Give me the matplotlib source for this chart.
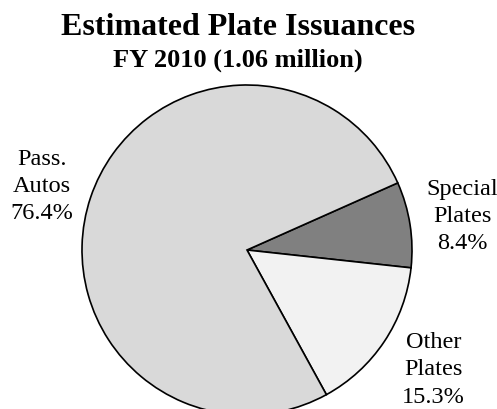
import matplotlib

matplotlib.use("Agg")
import matplotlib.pyplot as plt  # noqa: E402
import numpy as np  # noqa: E402

labels = ["Special\nPlates\n8.4%", "Other\nPlates\n15.3%", "Pass.\nAutos\n76.4%"]
shares = [8.4, 15.3, 76.4]
colors = ["#808080", "#f2f2f2", "#d9d9d9"]
label_dist = [1.32, 1.345, 1.30]
label_turn = [0.0, 1.0, 1.4]  # small angle nudges (deg)

plt.rcParams["font.family"] = ["Liberation Serif", "DejaVu Serif"]

fig = plt.figure(figsize=(4.97, 4.09), dpi=100)
ax = fig.add_axes([0, 0, 1, 1])

wedges, _ = ax.pie(
    shares,
    colors=colors,
    startangle=24,
    counterclock=False,
    wedgeprops=dict(edgecolor="black", linewidth=1.2),
)

for w, lab, d, t in zip(wedges, labels, label_dist, label_turn):
    mid = np.deg2rad((w.theta1 + w.theta2) / 2 + t)
    ax.text(d * np.cos(mid), d * np.sin(mid), lab, ha="center", va="center",
            fontsize=17.5, linespacing=1.38)

# pie centre at (247, 250) px from top-left, radius 165 px
r = 165.0
ax.set_xlim(-247 / r, (497 - 247) / r)
ax.set_ylim(-(409 - 250) / r, 250 / r)
ax.set_aspect("auto")
ax.axis("off")

fig.text(238 / 497, 1 - 35 / 409, "Estimated Plate Issuances", ha="center",
         va="baseline", fontsize=23, fontweight="bold")
fig.text(238 / 497, 1 - 67 / 409, "FY 2010 (1.06 million)", ha="center",
         va="baseline", fontsize=19, fontweight="bold")

fig.savefig("out.png", dpi=100)
